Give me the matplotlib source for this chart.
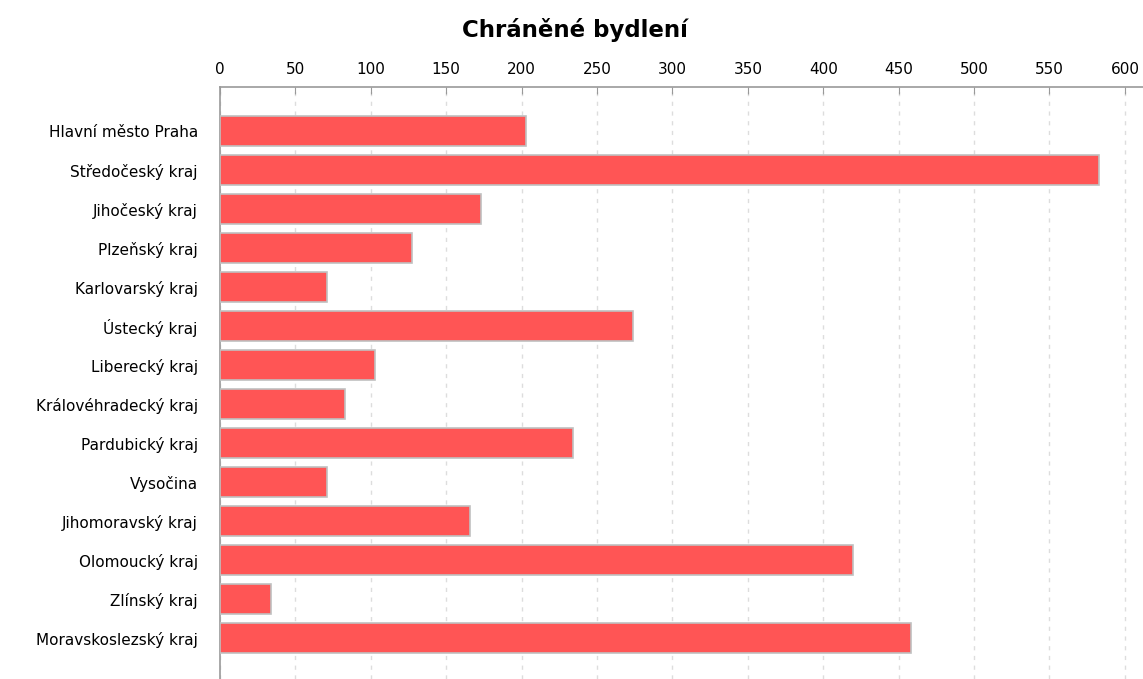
import matplotlib
matplotlib.use("Agg")
import matplotlib.pyplot as plt

regions = ["Hlavní město Praha", "Středočeský kraj", "Jihočeský kraj", "Plzeňský kraj",
           "Karlovarský kraj", "Ústecký kraj", "Liberecký kraj", "Královéhradecký kraj",
           "Pardubický kraj", "Vysočina", "Jihomoravský kraj", "Olomoucký kraj",
           "Zlínský kraj", "Moravskoslezský kraj"]
values = [203, 583, 173, 127, 71, 274, 103, 83, 234, 71, 166, 420, 34, 458]
ticks = list(range(0, 601, 50))

fig = plt.figure(figsize=(11.43, 6.79), dpi=100)
ax = fig.add_axes([220 / 1143, 0.0, 1 - 220 / 1143, 1 - 87 / 679])

pos = list(range(len(regions)))
ax.barh(pos, values, height=0.77, color="#ff5555", edgecolor="#c0c0c0", linewidth=1.2, zorder=3)

ax.set_xlim(0, 612)
ax.set_ylim(14.05, -1.13)
ax.set_xticks(ticks)
ax.set_yticks(pos)
ax.set_yticklabels(regions)

ax.xaxis.tick_top()
ax.tick_params(axis="x", direction="in", length=5, color="#999999", labelsize=11, pad=7)
ax.tick_params(axis="y", length=0, labelsize=11, pad=16)
ax.xaxis.grid(True, linestyle=(0, (3, 4)), color="#dddddd", linewidth=1, zorder=0)

for side in ["right", "bottom"]:
    ax.spines[side].set_visible(False)
for side in ["top", "left"]:
    ax.spines[side].set_color("#999999")
    ax.spines[side].set_linewidth(1.2)

fig.text(575 / 1143, 1 - 30 / 679, "Chráněné bydlení", ha="center", va="center",
         fontsize=16.5, fontweight="bold")

fig.savefig("out.png", dpi=100)
